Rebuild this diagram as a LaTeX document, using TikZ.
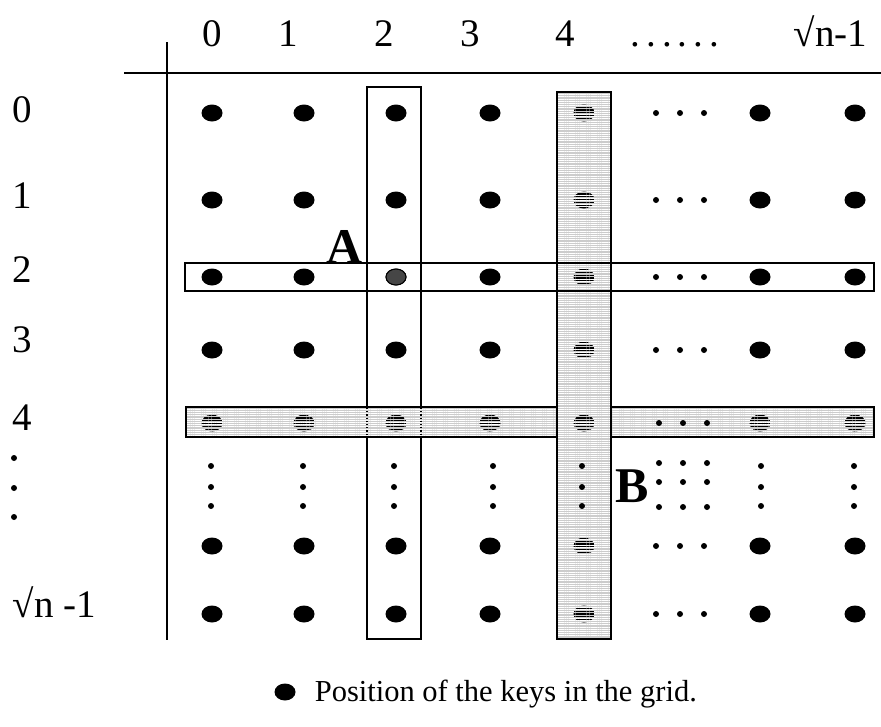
\documentclass[tikz,border=0pt]{standalone}
\usepackage{fontspec}
\setmainfont{Liberation Serif}
\usetikzlibrary{patterns.meta}
\begin{document}
\begin{tikzpicture}[x=1pt,y=-1pt,line width=1.6pt,
  bigdot/.style={fill=black},
  stripedot/.style={pattern={Lines[angle=0,distance=2.8pt,line width=1.3pt]},pattern color=black},
  smalldot/.style={fill=black},
  barshade/.style={draw=black,preaction={fill=gray!40},pattern={Lines[angle=0,distance=2.2pt,line width=0.7pt]},pattern color=white},
  outlinebox/.style={draw=black},
  lab/.style={font=\fontsize{39}{44}\selectfont,inner sep=0pt},
  biglab/.style={font=\fontsize{50}{56}\selectfont\bfseries,inner sep=0pt},
  legend/.style={font=\fontsize{30.5}{36}\selectfont,inner sep=0pt}]
\useasboundingbox (0,0) rectangle (881,726);
% axes
\coordinate (hl) at (124,73); \coordinate (hr) at (881,73);
\coordinate (vt) at (167,42); \coordinate (vb) at (167,640);
\draw (hl) -- (hr);
\draw (vt) -- (vb);
% column 2 box
\draw[outlinebox] (367,87) rectangle (421,639);
% row 4 shaded bar
\draw[barshade] (186,407) rectangle (874,437);
\draw[line width=1.2pt,dotted] (367,408) -- (367,436);
\draw[line width=1.2pt,dotted] (421,408) -- (421,436);
% column 4 shaded bar
\draw[barshade] (557,92) rectangle (611,639);
% row 2 box
\draw[outlinebox] (185,263) rectangle (874,291);
% big dots
\foreach \y in {113,200,277,350,546,614}{
  \foreach \x in {212,304,396,490,760,855}{
    \fill[bigdot] (\x,\y) ellipse [x radius=10.5pt,y radius=8.5pt];
  }
  \fill[stripedot] (584,\y) ellipse [x radius=10.5pt,y radius=8.5pt];
  \foreach \x in {656,680,704}{
    \fill[smalldot] (\x,\y) circle [radius=3pt];
  }
}
% point A intersection
\filldraw[fill=gray!55!black,draw=black,line width=1pt] (396,277) ellipse [x radius=10pt,y radius=8pt];
% row 4 striped dots
\foreach \x in {212,304,396,490,584,760,855}{
  \fill[stripedot] (\x,423) ellipse [x radius=10.5pt,y radius=8.5pt];
}
\foreach \x in {659,683,707}{
  \fill[smalldot] (\x,423) circle [radius=3pt];
}
% vertical dots
\foreach \x in {211,303,394,493,582,761,854}{
  \foreach \y in {466,487,506}{
    \fill[smalldot] (\x,\y) circle [radius=3pt];
  }
}
\foreach \x in {659,683,707}{
  \foreach \y in {463,482,507}{
    \fill[smalldot] (\x,\y) circle [radius=3pt];
  }
}
% left vertical dots
\foreach \y in {458,488,517}{
  \fill[smalldot] (14,\y) circle [radius=3pt];
}
% top labels
\node[lab,anchor=base] (t0) at (212,46) {0};
\node[lab,anchor=base] (t1) at (288,46) {1};
\node[lab,anchor=base] (t2) at (384,46) {2};
\node[lab,anchor=base] (t3) at (470,46) {3};
\node[lab,anchor=base] (t4) at (565,46) {4};
\node[lab,anchor=base] (tdots) at (675,46) {.\kern6pt.\kern6pt.\kern6pt.\kern6pt.\kern6pt.};
\node[lab,anchor=base east] (tn) at (868,46) {√n-1};
% left labels
\node[lab,anchor=base] (l0) at (22,122) {0};
\node[lab,anchor=base] (l1) at (22,208) {1};
\node[lab,anchor=base] (l2) at (22,282) {2};
\node[lab,anchor=base] (l3) at (22,352) {3};
\node[lab,anchor=base] (l4) at (22,430) {4};
\node[lab,anchor=base west] (ln) at (12,617) {√n -1};
% A and B
\node[biglab,anchor=base] (A) at (345,263) {A};
\node[biglab,anchor=base west] (B) at (615,502) {B};
% legend
\fill[bigdot] (285,692) ellipse [x radius=10.5pt,y radius=8.5pt];
\node[legend,anchor=base west] (leg) at (314,701) {Position of the keys in the grid.};
\end{tikzpicture}
\end{document}
